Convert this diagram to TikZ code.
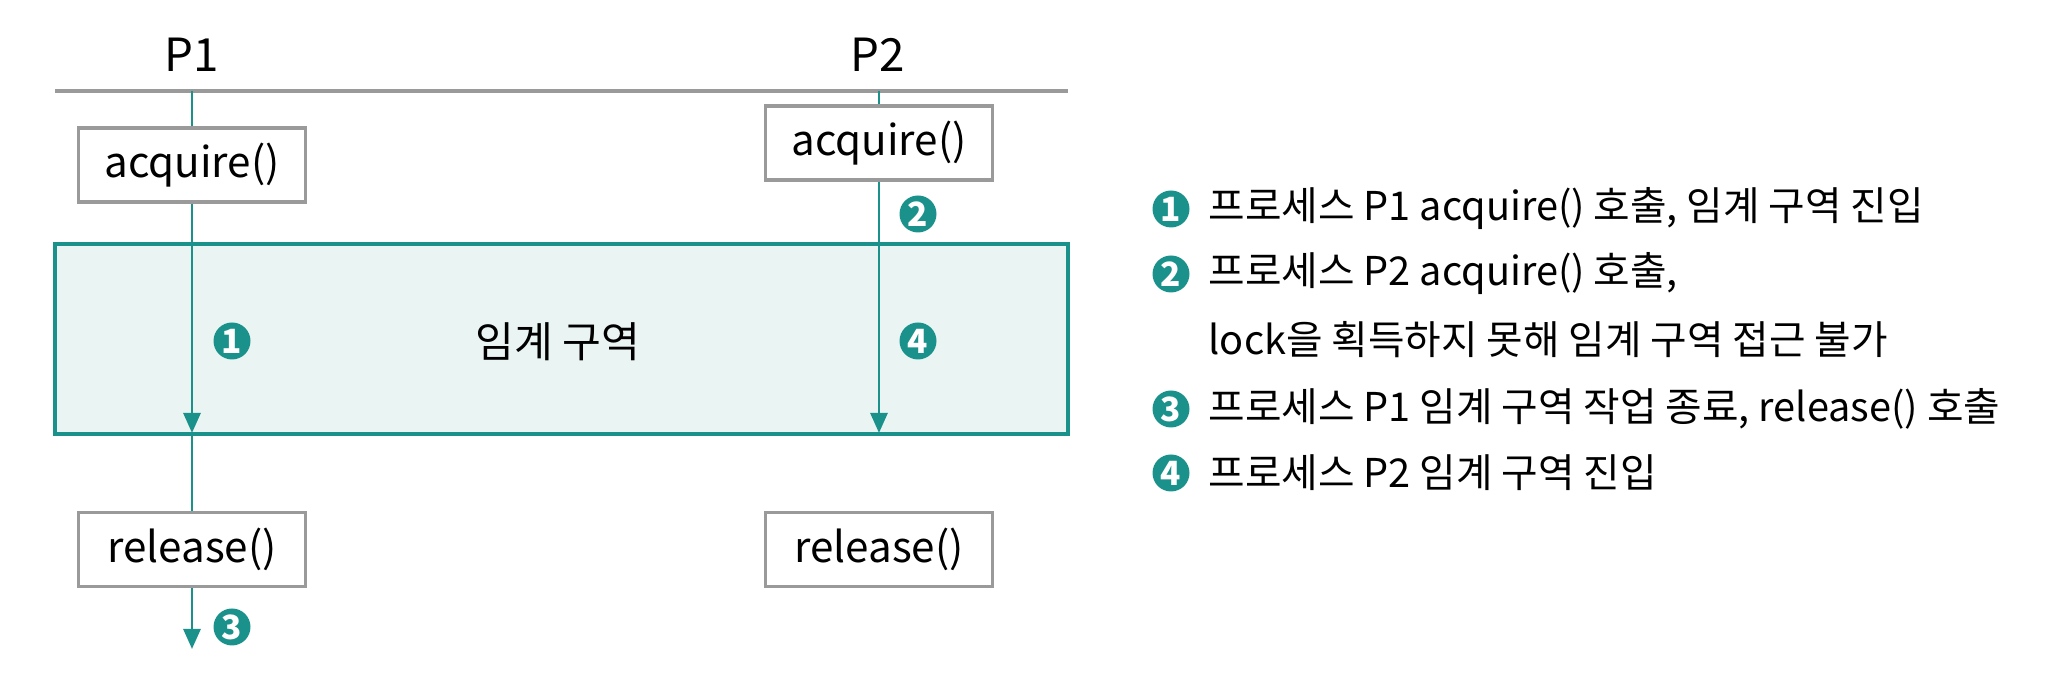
\documentclass[tikz,border=0pt]{standalone}
\usepackage{fontspec}
\setmainfont{Noto Sans CJK KR}
\usetikzlibrary{arrows.meta}
\definecolor{tealline}{HTML}{1A928B}
\definecolor{regionfill}{HTML}{EAF4F3}
\definecolor{boxgray}{HTML}{9A9A9A}
\tikzset{
  callbox/.style={draw=boxgray, line width=1pt, fill=white, minimum width=2.27cm,
    minimum height=0.74cm, inner sep=0pt, font=\fontsize{12}{14}\selectfont},
  numbadge/.style={circle, fill=tealline, text=white, minimum size=0.37cm, inner sep=0pt,
    font=\fontsize{9.5}{10}\selectfont\bfseries},
  flow/.style={draw=tealline, line width=0.8pt},
  flowarrow/.style={flow, -{Triangle[width=0.17cm,length=0.2cm]}},
  legendtext/.style={anchor=west, inner sep=0pt, font=\fontsize{11.3}{13}\selectfont}
}
\begin{document}
\begin{tikzpicture}
  \useasboundingbox (0,0) rectangle (20.48,6.91);
  % critical region
  \fill[regionfill] (0.55,2.57) rectangle (10.68,4.47);
  \draw[tealline, line width=1pt] (0.55,2.57) rectangle (10.68,4.47);
  \node[font=\fontsize{12}{14}\selectfont] (region) at (5.58,3.49) {임계 구역};
  % process headers
  \node[font=\fontsize{13}{15}\selectfont] (P1) at (1.92,6.36) {P1};
  \node[font=\fontsize{13}{15}\selectfont] (P2) at (8.78,6.36) {P2};
  \draw[boxgray, line width=1.2pt] (0.55,6.00) -- (10.68,6.00);
  \coordinate (p1top) at (1.92,6.00);
  \coordinate (p2top) at (8.79,6.00);
  \coordinate (p1end) at (1.92,2.58);
  \coordinate (p2end) at (8.79,2.58);
  \coordinate (p1out) at (1.92,0.42);
  % calls
  \node[callbox] (acq1) at (1.92,5.26) {acquire()};
  \node[callbox] (acq2) at (8.79,5.48) {acquire()};
  \node[callbox] (rel1) at (1.92,1.415) {release()};
  \node[callbox] (rel2) at (8.79,1.415) {release()};
  \draw[flow] (p1top) -- (acq1.north);
  \draw[flow] (p2top) -- (acq2.north);
  \draw[flowarrow] (acq1.south) -- (p1end);
  \draw[flowarrow] (acq2.south) -- (p2end);
  \draw[flow] (p1end) -- (rel1.north);
  \draw[flowarrow] (rel1.south) -- (p1out);
  % step numbers
  \node[numbadge] (s1) at (2.32,3.50) {1};
  \node[numbadge] (s2) at (9.18,4.77) {2};
  \node[numbadge] (s3) at (2.32,0.64) {3};
  \node[numbadge] (s4) at (9.18,3.50) {4};
  % legend
  \node[numbadge] (l1) at (11.71,4.82) {1};
  \node[numbadge] (l2) at (11.71,4.17) {2};
  \node[numbadge] (l3) at (11.71,2.82) {3};
  \node[numbadge] (l4) at (11.71,2.18) {4};
  \node[legendtext] (t1) at (12.08,4.82) {프로세스 P1 acquire() 호출, 임계 구역 진입};
  \node[legendtext] (t2) at (12.08,4.17) {프로세스 P2 acquire() 호출,};
  \node[legendtext] (t2b) at (12.08,3.51) {lock을 획득하지 못해 임계 구역 접근 불가};
  \node[legendtext] (t3) at (12.08,2.82) {프로세스 P1 임계 구역 작업 종료, release() 호출};
  \node[legendtext] (t4) at (12.08,2.18) {프로세스 P2 임계 구역 진입};
\end{tikzpicture}
\end{document}
